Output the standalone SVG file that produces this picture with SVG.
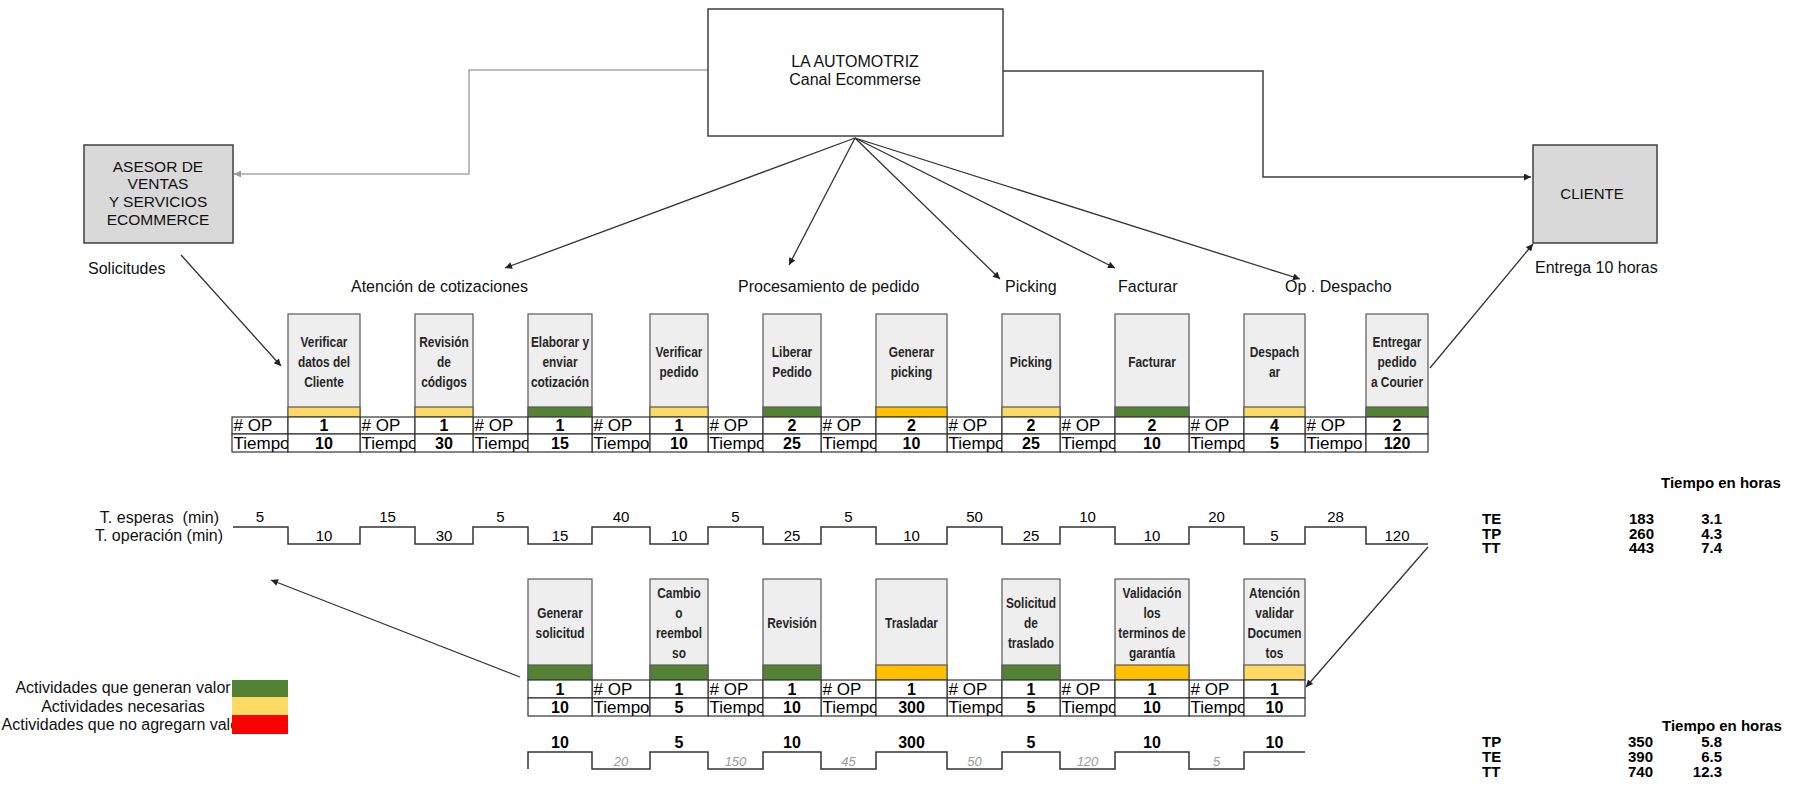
<svg xmlns="http://www.w3.org/2000/svg" width="1794" height="787" viewBox="0 0 1794 787">
  <style>
    .bg { fill: #ffffff; }
    .lbl { font-family: "Liberation Sans", Arial, sans-serif; font-size: 16px; fill: #111; }
    .hdr { font-family: "Liberation Sans", Arial, sans-serif; font-size: 16px; fill: #111; text-anchor: middle; }
    .box { fill: #eeeeee; stroke: #595959; stroke-width: 1.2; }
    .node { fill: #ffffff; stroke: #404040; stroke-width: 1.5; }
    .gray { fill: #d9d9d9; stroke: #404040; stroke-width: 1.5; }
    .act { font-family: "Liberation Sans", Arial, sans-serif; font-size: 14.5px; font-weight: bold; fill: #262626; text-anchor: middle; }
    .cell { fill: #ffffff; stroke: #333; stroke-width: 1.2; }
    .cl { font-family: "Liberation Sans", Arial, sans-serif; font-size: 17px; fill: #000; }
    .cv { font-family: "Liberation Sans", Arial, sans-serif; font-size: 16px; font-weight: bold; fill: #000; text-anchor: middle; }
    .tv { font-family: "Liberation Sans", Arial, sans-serif; font-size: 15px; fill: #000; text-anchor: middle; }
    .tw { font-family: "Liberation Sans", Arial, sans-serif; font-size: 13px; font-style: italic; fill: #9a9a9a; text-anchor: middle; }
    .sum { font-family: "Liberation Sans", Arial, sans-serif; font-size: 15px; font-weight: bold; fill: #000; }
    .g { fill: #548235; }
    .y { fill: #ffd966; }
    .o { fill: #ffc000; }
    .r { fill: #ff0000; }
    .band { stroke: #595959; stroke-width: 1.2; }
    .ln { fill: none; stroke: #333; stroke-width: 1.3; }
    .step { fill: none; stroke: #333; stroke-width: 1.5; }
  </style>
  <defs>
    <marker id="ah" viewBox="0 0 10 10" refX="10" refY="5" markerWidth="9" markerHeight="7" markerUnits="userSpaceOnUse" orient="auto">
      <path d="M0,0 L10,5 L0,10 z" fill="#222"/>
    </marker>
    <marker id="ahg" viewBox="0 0 10 10" refX="10" refY="5" markerWidth="9" markerHeight="7" markerUnits="userSpaceOnUse" orient="auto">
      <path d="M0,0 L10,5 L0,10 z" fill="#9a9a9a"/>
    </marker>
  </defs>
  <rect class="bg" x="0" y="0" width="1794" height="787"/>

  <!-- connectors -->
  <g id="connectors">
    <polyline points="708,70 469,70 469,174 234,174" fill="none" stroke="#a6a6a6" stroke-width="1.5" marker-end="url(#ahg)"/>
    <polyline points="1003,71 1263,71 1263,177 1531,177" fill="none" stroke="#404040" stroke-width="1.5" marker-end="url(#ah)"/>
    <line class="ln" x1="855" y1="138" x2="505" y2="268" marker-end="url(#ah)"/>
    <line class="ln" x1="855" y1="138" x2="789" y2="265" marker-end="url(#ah)"/>
    <line class="ln" x1="855" y1="138" x2="1000" y2="279" marker-end="url(#ah)"/>
    <line class="ln" x1="855" y1="138" x2="1115" y2="268" marker-end="url(#ah)"/>
    <line class="ln" x1="855" y1="138" x2="1300" y2="279" marker-end="url(#ah)"/>
    <line class="ln" x1="181" y1="255" x2="281" y2="366" marker-end="url(#ah)"/>
    <line class="ln" x1="1430" y1="368" x2="1533" y2="244" marker-end="url(#ah)"/>
    <line class="ln" x1="1428" y1="547" x2="1306" y2="687" marker-end="url(#ah)"/>
    <line class="ln" x1="520" y1="677" x2="271" y2="580" marker-end="url(#ah)"/>
  </g>

  <!-- main nodes -->
  <g id="automotriz">
    <rect class="node" x="708" y="9" width="295" height="127"/>
    <text class="hdr" x="855" y="67">LA AUTOMOTRIZ</text>
    <text class="hdr" x="855" y="85">Canal Ecommerse</text>
  </g>
  <g id="asesor">
    <rect class="gray" x="84" y="145" width="149" height="98"/>
    <text class="hdr" x="158" y="172" style="font-size:15.5px">ASESOR DE</text>
    <text class="hdr" x="158" y="189" style="font-size:15.5px">VENTAS</text>
    <text class="hdr" x="158" y="207" style="font-size:15.5px">Y SERVICIOS</text>
    <text class="hdr" x="158" y="225" style="font-size:15.5px">ECOMMERCE</text>
  </g>
  <g id="cliente">
    <rect class="gray" x="1533" y="145" width="124" height="98"/>
    <text class="hdr" x="1592" y="199" style="font-size:15px">CLIENTE</text>
  </g>

  <!-- section labels -->
  <g id="labels">
    <text class="lbl" x="88" y="274">Solicitudes</text>
    <text class="lbl" x="1535" y="273">Entrega 10 horas</text>
    <text class="lbl" x="351" y="292">Atención de cotizaciones</text>
    <text class="lbl" x="738" y="292">Procesamiento de pedido</text>
    <text class="lbl" x="1005" y="292">Picking</text>
    <text class="lbl" x="1118" y="292">Facturar</text>
    <text class="lbl" x="1285" y="292">Op . Despacho</text>
  </g>

  <!-- upper flow: label cells -->
  <g id="tabla-superior">
    <rect class="cell" x="232" y="417" width="56" height="17"/><rect class="cell" x="232" y="434" width="56" height="18"/>
    <rect class="cell" x="360" y="417" width="55" height="17"/><rect class="cell" x="360" y="434" width="55" height="18"/>
    <rect class="cell" x="473" y="417" width="55" height="17"/><rect class="cell" x="473" y="434" width="55" height="18"/>
    <rect class="cell" x="592" y="417" width="58" height="17"/><rect class="cell" x="592" y="434" width="58" height="18"/>
    <rect class="cell" x="708" y="417" width="55" height="17"/><rect class="cell" x="708" y="434" width="55" height="18"/>
    <rect class="cell" x="821" y="417" width="55" height="17"/><rect class="cell" x="821" y="434" width="55" height="18"/>
    <rect class="cell" x="947" y="417" width="55" height="17"/><rect class="cell" x="947" y="434" width="55" height="18"/>
    <rect class="cell" x="1060" y="417" width="55" height="17"/><rect class="cell" x="1060" y="434" width="55" height="18"/>
    <rect class="cell" x="1189" y="417" width="55" height="17"/><rect class="cell" x="1189" y="434" width="55" height="18"/>
    <rect class="cell" x="1305" y="417" width="61" height="17"/><rect class="cell" x="1305" y="434" width="61" height="18"/>
    <text class="cl" x="233.5" y="431"># OP</text><text class="cl" x="233.5" y="449">Tiempo</text>
    <text class="cl" x="361.5" y="431"># OP</text><text class="cl" x="361.5" y="449">Tiempo</text>
    <text class="cl" x="474.5" y="431"># OP</text><text class="cl" x="474.5" y="449">Tiempo</text>
    <text class="cl" x="593.5" y="431"># OP</text><text class="cl" x="593.5" y="449">Tiempo</text>
    <text class="cl" x="709.5" y="431"># OP</text><text class="cl" x="709.5" y="449">Tiempo</text>
    <text class="cl" x="822.5" y="431"># OP</text><text class="cl" x="822.5" y="449">Tiempo</text>
    <text class="cl" x="948.5" y="431"># OP</text><text class="cl" x="948.5" y="449">Tiempo</text>
    <text class="cl" x="1061.5" y="431"># OP</text><text class="cl" x="1061.5" y="449">Tiempo</text>
    <text class="cl" x="1190.5" y="431"># OP</text><text class="cl" x="1190.5" y="449">Tiempo</text>
    <text class="cl" x="1306.5" y="431"># OP</text><text class="cl" x="1306.5" y="449">Tiempo</text>
  </g>

  <!-- upper flow: activities (titles drawn horizontally condensed) -->
  <g id="verificar-datos">
    <rect class="box" x="288" y="314" width="72" height="103"/>
    <rect class="band y" x="288" y="407" width="72" height="10"/>
    <g transform="translate(324,0) scale(0.82,1)">
      <text class="act" x="0" y="347">Verificar</text>
      <text class="act" x="0" y="367">datos del</text>
      <text class="act" x="0" y="387">Cliente</text>
    </g>
    <rect class="cell" x="288" y="417" width="72" height="17"/><rect class="cell" x="288" y="434" width="72" height="18"/>
    <text class="cv" x="324" y="431">1</text><text class="cv" x="324" y="449">10</text>
  </g>
  <g id="revision-codigos">
    <rect class="box" x="415" y="314" width="58" height="103"/>
    <rect class="band y" x="415" y="407" width="58" height="10"/>
    <g transform="translate(444,0) scale(0.82,1)">
      <text class="act" x="0" y="347">Revisión</text>
      <text class="act" x="0" y="367">de</text>
      <text class="act" x="0" y="387">códigos</text>
    </g>
    <rect class="cell" x="415" y="417" width="58" height="17"/><rect class="cell" x="415" y="434" width="58" height="18"/>
    <text class="cv" x="444" y="431">1</text><text class="cv" x="444" y="449">30</text>
  </g>
  <g id="elaborar-cotizacion">
    <rect class="box" x="528" y="314" width="64" height="103"/>
    <rect class="band g" x="528" y="407" width="64" height="10"/>
    <g transform="translate(560,0) scale(0.82,1)">
      <text class="act" x="0" y="347">Elaborar y</text>
      <text class="act" x="0" y="367">enviar</text>
      <text class="act" x="0" y="387">cotización</text>
    </g>
    <rect class="cell" x="528" y="417" width="64" height="17"/><rect class="cell" x="528" y="434" width="64" height="18"/>
    <text class="cv" x="560" y="431">1</text><text class="cv" x="560" y="449">15</text>
  </g>
  <g id="verificar-pedido">
    <rect class="box" x="650" y="314" width="58" height="103"/>
    <rect class="band y" x="650" y="407" width="58" height="10"/>
    <g transform="translate(679,0) scale(0.82,1)">
      <text class="act" x="0" y="357">Verificar</text>
      <text class="act" x="0" y="377">pedido</text>
    </g>
    <rect class="cell" x="650" y="417" width="58" height="17"/><rect class="cell" x="650" y="434" width="58" height="18"/>
    <text class="cv" x="679" y="431">1</text><text class="cv" x="679" y="449">10</text>
  </g>
  <g id="liberar-pedido">
    <rect class="box" x="763" y="314" width="58" height="103"/>
    <rect class="band g" x="763" y="407" width="58" height="10"/>
    <g transform="translate(792,0) scale(0.82,1)">
      <text class="act" x="0" y="357">Liberar</text>
      <text class="act" x="0" y="377">Pedido</text>
    </g>
    <rect class="cell" x="763" y="417" width="58" height="17"/><rect class="cell" x="763" y="434" width="58" height="18"/>
    <text class="cv" x="792" y="431">2</text><text class="cv" x="792" y="449">25</text>
  </g>
  <g id="generar-picking">
    <rect class="box" x="876" y="314" width="71" height="103"/>
    <rect class="band o" x="876" y="407" width="71" height="10"/>
    <g transform="translate(911.5,0) scale(0.82,1)">
      <text class="act" x="0" y="357">Generar</text>
      <text class="act" x="0" y="377">picking</text>
    </g>
    <rect class="cell" x="876" y="417" width="71" height="17"/><rect class="cell" x="876" y="434" width="71" height="18"/>
    <text class="cv" x="911.5" y="431">2</text><text class="cv" x="911.5" y="449">10</text>
  </g>
  <g id="picking">
    <rect class="box" x="1002" y="314" width="58" height="103"/>
    <rect class="band y" x="1002" y="407" width="58" height="10"/>
    <g transform="translate(1031,0) scale(0.82,1)">
      <text class="act" x="0" y="367">Picking</text>
    </g>
    <rect class="cell" x="1002" y="417" width="58" height="17"/><rect class="cell" x="1002" y="434" width="58" height="18"/>
    <text class="cv" x="1031" y="431">2</text><text class="cv" x="1031" y="449">25</text>
  </g>
  <g id="facturar">
    <rect class="box" x="1115" y="314" width="74" height="103"/>
    <rect class="band g" x="1115" y="407" width="74" height="10"/>
    <g transform="translate(1152,0) scale(0.82,1)">
      <text class="act" x="0" y="367">Facturar</text>
    </g>
    <rect class="cell" x="1115" y="417" width="74" height="17"/><rect class="cell" x="1115" y="434" width="74" height="18"/>
    <text class="cv" x="1152" y="431">2</text><text class="cv" x="1152" y="449">10</text>
  </g>
  <g id="despachar">
    <rect class="box" x="1244" y="314" width="61" height="103"/>
    <rect class="band y" x="1244" y="407" width="61" height="10"/>
    <g transform="translate(1274.5,0) scale(0.82,1)">
      <text class="act" x="0" y="357">Despach</text>
      <text class="act" x="0" y="377">ar</text>
    </g>
    <rect class="cell" x="1244" y="417" width="61" height="17"/><rect class="cell" x="1244" y="434" width="61" height="18"/>
    <text class="cv" x="1274.5" y="431">4</text><text class="cv" x="1274.5" y="449">5</text>
  </g>
  <g id="entregar-courier">
    <rect class="box" x="1366" y="314" width="62" height="103"/>
    <rect class="band g" x="1366" y="407" width="62" height="10"/>
    <g transform="translate(1397,0) scale(0.82,1)">
      <text class="act" x="0" y="347">Entregar</text>
      <text class="act" x="0" y="367">pedido</text>
      <text class="act" x="0" y="387">a Courier</text>
    </g>
    <rect class="cell" x="1366" y="417" width="62" height="17"/><rect class="cell" x="1366" y="434" width="62" height="18"/>
    <text class="cv" x="1397" y="431">2</text><text class="cv" x="1397" y="449">120</text>
  </g>

  <!-- upper time line -->
  <g id="linea-tiempo-superior">
    <text class="lbl" x="219" y="523" text-anchor="end" xml:space="preserve">T. esperas  (min)</text>
    <text class="lbl" x="223" y="541" text-anchor="end">T. operación (min)</text>
    <path class="step" d="M233,527 H288 V544 H360 V527 H415 V544 H473 V527 H528 V544 H592 V527 H650 V544 H708 V527 H763 V544 H821 V527 H876 V544 H947 V527 H1002 V544 H1060 V527 H1115 V544 H1189 V527 H1244 V544 H1305 V527 H1366 V544 H1428"/>
    <text class="tv" x="260" y="522">5</text>
    <text class="tv" x="387.5" y="522">15</text>
    <text class="tv" x="500.5" y="522">5</text>
    <text class="tv" x="621" y="522">40</text>
    <text class="tv" x="735.5" y="522">5</text>
    <text class="tv" x="848.5" y="522">5</text>
    <text class="tv" x="974.5" y="522">50</text>
    <text class="tv" x="1087.5" y="522">10</text>
    <text class="tv" x="1216.5" y="522">20</text>
    <text class="tv" x="1335.5" y="522">28</text>
    <text class="tv" x="324" y="541">10</text>
    <text class="tv" x="444" y="541">30</text>
    <text class="tv" x="560" y="541">15</text>
    <text class="tv" x="679" y="541">10</text>
    <text class="tv" x="792" y="541">25</text>
    <text class="tv" x="911.5" y="541">10</text>
    <text class="tv" x="1031" y="541">25</text>
    <text class="tv" x="1152" y="541">10</text>
    <text class="tv" x="1274.5" y="541">5</text>
    <text class="tv" x="1397" y="541">120</text>
  </g>

  <g id="resumen-superior">
    <text class="sum" x="1661" y="488">Tiempo en horas</text>
    <text class="sum" x="1482" y="524">TE</text>
    <text class="sum" x="1482" y="539">TP</text>
    <text class="sum" x="1482" y="553">TT</text>
    <text class="sum" x="1654" y="524" text-anchor="end">183</text>
    <text class="sum" x="1654" y="539" text-anchor="end">260</text>
    <text class="sum" x="1654" y="553" text-anchor="end">443</text>
    <text class="sum" x="1722" y="524" text-anchor="end">3.1</text>
    <text class="sum" x="1722" y="539" text-anchor="end">4.3</text>
    <text class="sum" x="1722" y="553" text-anchor="end">7.4</text>
  </g>

  <!-- lower flow: label cells -->
  <g id="tabla-inferior">
    <rect class="cell" x="592" y="680" width="58" height="18"/><rect class="cell" x="592" y="698" width="58" height="18"/>
    <rect class="cell" x="708" y="680" width="55" height="18"/><rect class="cell" x="708" y="698" width="55" height="18"/>
    <rect class="cell" x="821" y="680" width="55" height="18"/><rect class="cell" x="821" y="698" width="55" height="18"/>
    <rect class="cell" x="947" y="680" width="55" height="18"/><rect class="cell" x="947" y="698" width="55" height="18"/>
    <rect class="cell" x="1060" y="680" width="55" height="18"/><rect class="cell" x="1060" y="698" width="55" height="18"/>
    <rect class="cell" x="1189" y="680" width="55" height="18"/><rect class="cell" x="1189" y="698" width="55" height="18"/>
    <text class="cl" x="593.5" y="695"># OP</text><text class="cl" x="593.5" y="713">Tiempo</text>
    <text class="cl" x="709.5" y="695"># OP</text><text class="cl" x="709.5" y="713">Tiempo</text>
    <text class="cl" x="822.5" y="695"># OP</text><text class="cl" x="822.5" y="713">Tiempo</text>
    <text class="cl" x="948.5" y="695"># OP</text><text class="cl" x="948.5" y="713">Tiempo</text>
    <text class="cl" x="1061.5" y="695"># OP</text><text class="cl" x="1061.5" y="713">Tiempo</text>
    <text class="cl" x="1190.5" y="695"># OP</text><text class="cl" x="1190.5" y="713">Tiempo</text>
  </g>

  <!-- lower flow: activities -->
  <g id="generar-solicitud">
    <rect class="box" x="528" y="579" width="64" height="101"/>
    <rect class="band g" x="528" y="665" width="64" height="15"/>
    <g transform="translate(560,0) scale(0.82,1)">
      <text class="act" x="0" y="618">Generar</text>
      <text class="act" x="0" y="638">solicitud</text>
    </g>
    <rect class="cell" x="528" y="680" width="64" height="18"/><rect class="cell" x="528" y="698" width="64" height="18"/>
    <text class="cv" x="560" y="695">1</text><text class="cv" x="560" y="713">10</text>
  </g>
  <g id="cambio-reembolso">
    <rect class="box" x="650" y="579" width="58" height="101"/>
    <rect class="band g" x="650" y="665" width="58" height="15"/>
    <g transform="translate(679,0) scale(0.82,1)">
      <text class="act" x="0" y="598">Cambio</text>
      <text class="act" x="0" y="618">o</text>
      <text class="act" x="0" y="638">reembol</text>
      <text class="act" x="0" y="658">so</text>
    </g>
    <rect class="cell" x="650" y="680" width="58" height="18"/><rect class="cell" x="650" y="698" width="58" height="18"/>
    <text class="cv" x="679" y="695">1</text><text class="cv" x="679" y="713">5</text>
  </g>
  <g id="revision">
    <rect class="box" x="763" y="579" width="58" height="101"/>
    <rect class="band g" x="763" y="665" width="58" height="15"/>
    <g transform="translate(792,0) scale(0.82,1)">
      <text class="act" x="0" y="628">Revisión</text>
    </g>
    <rect class="cell" x="763" y="680" width="58" height="18"/><rect class="cell" x="763" y="698" width="58" height="18"/>
    <text class="cv" x="792" y="695">1</text><text class="cv" x="792" y="713">10</text>
  </g>
  <g id="trasladar">
    <rect class="box" x="876" y="579" width="71" height="101"/>
    <rect class="band o" x="876" y="665" width="71" height="15"/>
    <g transform="translate(911.5,0) scale(0.82,1)">
      <text class="act" x="0" y="628">Trasladar</text>
    </g>
    <rect class="cell" x="876" y="680" width="71" height="18"/><rect class="cell" x="876" y="698" width="71" height="18"/>
    <text class="cv" x="911.5" y="695">1</text><text class="cv" x="911.5" y="713">300</text>
  </g>
  <g id="solicitud-traslado">
    <rect class="box" x="1002" y="579" width="58" height="101"/>
    <rect class="band g" x="1002" y="665" width="58" height="15"/>
    <g transform="translate(1031,0) scale(0.82,1)">
      <text class="act" x="0" y="608">Solicitud</text>
      <text class="act" x="0" y="628">de</text>
      <text class="act" x="0" y="648">traslado</text>
    </g>
    <rect class="cell" x="1002" y="680" width="58" height="18"/><rect class="cell" x="1002" y="698" width="58" height="18"/>
    <text class="cv" x="1031" y="695">1</text><text class="cv" x="1031" y="713">5</text>
  </g>
  <g id="validacion-garantia">
    <rect class="box" x="1115" y="579" width="74" height="101"/>
    <rect class="band o" x="1115" y="665" width="74" height="15"/>
    <g transform="translate(1152,0) scale(0.82,1)">
      <text class="act" x="0" y="598">Validación</text>
      <text class="act" x="0" y="618">los</text>
      <text class="act" x="0" y="638">terminos de</text>
      <text class="act" x="0" y="658">garantía</text>
    </g>
    <rect class="cell" x="1115" y="680" width="74" height="18"/><rect class="cell" x="1115" y="698" width="74" height="18"/>
    <text class="cv" x="1152" y="695">1</text><text class="cv" x="1152" y="713">10</text>
  </g>
  <g id="atencion-documentos">
    <rect class="box" x="1244" y="579" width="61" height="101"/>
    <rect class="band y" x="1244" y="665" width="61" height="15"/>
    <g transform="translate(1274.5,0) scale(0.82,1)">
      <text class="act" x="0" y="598">Atención</text>
      <text class="act" x="0" y="618">validar</text>
      <text class="act" x="0" y="638">Documen</text>
      <text class="act" x="0" y="658">tos</text>
    </g>
    <rect class="cell" x="1244" y="680" width="61" height="18"/><rect class="cell" x="1244" y="698" width="61" height="18"/>
    <text class="cv" x="1274.5" y="695">1</text><text class="cv" x="1274.5" y="713">10</text>
  </g>

  <!-- lower time line -->
  <g id="linea-tiempo-inferior">
    <path class="step" d="M528,769 V752 H592 V769 H650 V752 H708 V769 H763 V752 H821 V769 H876 V752 H947 V769 H1002 V752 H1060 V769 H1115 V752 H1189 V769 H1244 V752 H1305"/>
    <text class="cv" x="560" y="748">10</text>
    <text class="cv" x="679" y="748">5</text>
    <text class="cv" x="792" y="748">10</text>
    <text class="cv" x="911.5" y="748">300</text>
    <text class="cv" x="1031" y="748">5</text>
    <text class="cv" x="1152" y="748">10</text>
    <text class="cv" x="1274.5" y="748">10</text>
    <text class="tw" x="621" y="766">20</text>
    <text class="tw" x="735.5" y="766">150</text>
    <text class="tw" x="848.5" y="766">45</text>
    <text class="tw" x="974.5" y="766">50</text>
    <text class="tw" x="1087.5" y="766">120</text>
    <text class="tw" x="1216.5" y="766">5</text>
  </g>

  <g id="resumen-inferior">
    <text class="sum" x="1662" y="731">Tiempo en horas</text>
    <text class="sum" x="1482" y="747">TP</text>
    <text class="sum" x="1482" y="762">TE</text>
    <text class="sum" x="1482" y="777">TT</text>
    <text class="sum" x="1653" y="747" text-anchor="end">350</text>
    <text class="sum" x="1653" y="762" text-anchor="end">390</text>
    <text class="sum" x="1653" y="777" text-anchor="end">740</text>
    <text class="sum" x="1722" y="747" text-anchor="end">5.8</text>
    <text class="sum" x="1722" y="762" text-anchor="end">6.5</text>
    <text class="sum" x="1722" y="777" text-anchor="end">12.3</text>
  </g>

  <!-- legend -->
  <g id="leyenda">
    <text class="lbl" x="123" y="693" text-anchor="middle">Actividades que generan valor</text>
    <text class="lbl" x="123" y="711.5" text-anchor="middle">Actividades necesarias</text>
    <text class="lbl" x="123" y="730" text-anchor="middle">Actividades que no agregarn valor</text>
    <rect class="g" x="232" y="680" width="56" height="17"/>
    <rect class="y" x="232" y="697" width="56" height="18"/>
    <rect class="r" x="232" y="715" width="56" height="19"/>
  </g>
</svg>
